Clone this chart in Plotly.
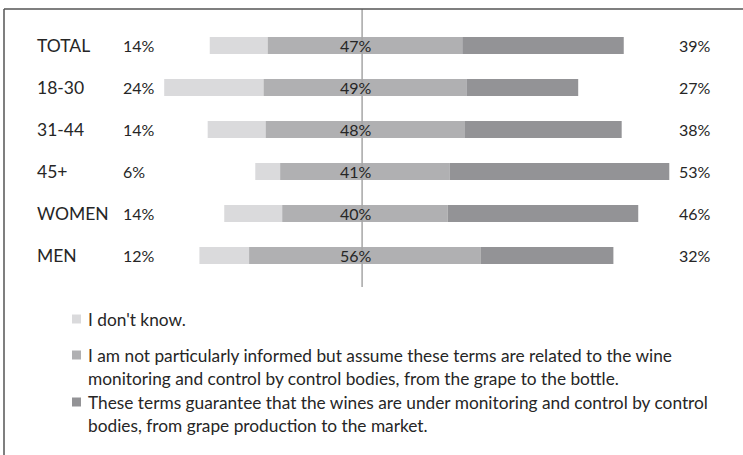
import plotly.graph_objects as go

categories = ["TOTAL", "18-30", "31-44", "45+", "WOMEN", "MEN"]
dont_know = [14, 24, 14, 6, 14, 12]
not_informed = [47, 49, 48, 41, 40, 56]
guarantee = [39, 27, 38, 53, 46, 32]
legend_labels = [
    ["I don't know."],
    ["I am not particularly informed but assume these terms are related to the wine",
     "monitoring and control by control bodies, from the grape to the bottle."],
    ["These terms guarantee that the wines are under monitoring and control by control",
     "bodies, from grape production to the market."],
]
colors = ["#dadadc", "#b0b0b2", "#939396"]

W, H = 743, 455
T, B = 9, 168
PH = H - T - B
PXPCT = 4.14
CENTER = 365
FONT = "Lato"
TXT = "#262626"

base_light = [-m / 2 - l for m, l in zip(not_informed, dont_know)]
base_mid = [-m / 2 for m in not_informed]
base_dark = [m / 2 for m in not_informed]

fig = go.Figure()
for vals, base, col in [(dont_know, base_light, colors[0]),
                        (not_informed, base_mid, colors[1]),
                        (guarantee, base_dark, colors[2])]:
    fig.add_trace(go.Bar(y=categories, x=vals, base=base, orientation="h",
                         marker=dict(color=col, line=dict(width=0)),
                         width=0.405, showlegend=False, hoverinfo="skip"))

ann = []
for c, l, m, d in zip(categories, dont_know, not_informed, guarantee):
    ann.append(dict(xref="paper", yref="y", x=35 / W, y=c, text=c, xanchor="left",
                    yanchor="middle", showarrow=False, font=dict(size=17.5, color=TXT, family=FONT)))
    ann.append(dict(xref="paper", yref="y", x=121 / W, y=c, text=f"{l}%", xanchor="left",
                    yanchor="middle", showarrow=False, font=dict(size=16, color=TXT, family=FONT)))
    ann.append(dict(xref="x", yref="y", x=-2.2, y=c, text=f"{m}%", xanchor="center",
                    yanchor="middle", showarrow=False, font=dict(size=16, color=TXT, family=FONT)))
    ann.append(dict(xref="paper", yref="y", x=677 / W, y=c, text=f"{d}%", xanchor="left",
                    yanchor="middle", showarrow=False, font=dict(size=16, color=TXT, family=FONT)))


def py(ypx):
    return (H - B - ypx) / PH


shapes = []
leg_y = [[319], [355, 378], [402, 425]]
for lines, ys, col in zip(legend_labels, leg_y, colors):
    for t, yy in zip(lines, ys):
        ann.append(dict(xref="paper", yref="paper", x=86 / W, y=py(yy), text=t, xanchor="left",
                        yanchor="middle", showarrow=False, font=dict(size=17.3, color=TXT, family=FONT)))
    shapes.append(dict(type="rect", xref="paper", yref="paper", x0=72 / W, x1=81 / W,
                       y0=py(ys[0] + 4.5), y1=py(ys[0] - 4.5), fillcolor=col, line=dict(width=0)))

# center reference line
shapes.append(dict(type="line", xref="x", yref="paper", x0=-0.7, x1=-0.7, y0=0, y1=1,
                   line=dict(color="#a6a6a6", width=1.5)))
# outer frame (top and left visible)
shapes.append(dict(type="line", xref="paper", yref="paper", x0=4 / W, x1=1.01, y0=1, y1=1,
                   line=dict(color="#555555", width=1.5)))
shapes.append(dict(type="line", xref="paper", yref="paper", x0=4 / W, x1=4 / W, y0=1, y1=py(H + 2),
                   line=dict(color="#555555", width=1.5)))

fig.update_layout(
    width=W, height=H,
    margin=dict(l=0, r=0, t=T, b=B),
    paper_bgcolor="white", plot_bgcolor="white",
    barmode="overlay",
    xaxis=dict(range=[-CENTER / PXPCT, (W - CENTER) / PXPCT], visible=False, fixedrange=True),
    yaxis=dict(type="category", categoryarray=categories, range=[5.75, -0.869],
               visible=False, fixedrange=True),
    annotations=ann, shapes=shapes,
    font=dict(family=FONT),
)

fig.write_html("out.html")
